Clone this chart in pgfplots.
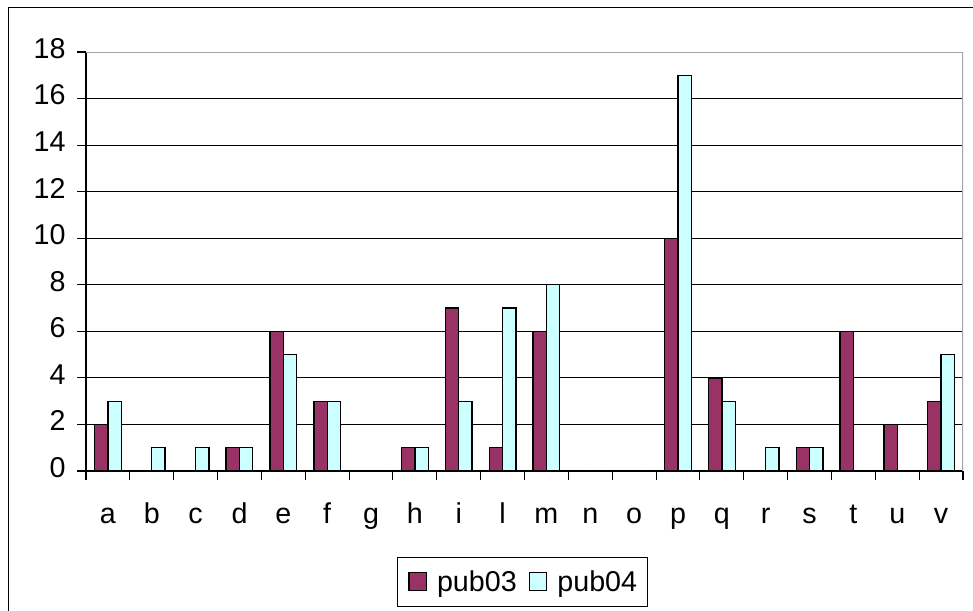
\documentclass[border=0pt]{standalone}
\usepackage{pgfplots}
\pgfplotsset{compat=1.18}
\usepackage{fontspec}
\setmainfont{Liberation Sans}
\definecolor{pubA}{RGB}{153,51,102}
\definecolor{pubB}{RGB}{204,255,255}
\begin{document}
\begin{tikzpicture}
\useasboundingbox (0,0) rectangle (729.75pt,-457.5pt);
\clip (0,0) rectangle (729.75pt,-457.5pt);
\draw[line width=0.75pt] (6pt,-470pt) -- (6pt,-6pt) -- (740pt,-6pt);
\coordinate (O) at (64.5pt,-39pt);
\begin{axis}[
    at={(O)}, anchor=north west,
    scale only axis,
    width=657.75pt, height=314.25pt,
    ybar=0pt, bar width=10pt,
    xmin=-0.5, xmax=19.5,
    ymin=0, ymax=18,
    axis lines=left,
    axis line style={-, line width=0.8pt},
    xtick={0,...,19},
    xticklabels={a,b,c,d,e,f,g,h,i,l,m,n,o,p,q,r,s,t,u,v},
    minor xtick={-0.5,0.5,...,19.5},
    ytick={0,2,...,18},
    tick align=outside,
    major x tick style={draw=none},
    minor tick length=6.75pt,
    major tick length=6.75pt,
    tick style={line width=0.8pt, black},
    ymajorgrids,
    grid style={black, line width=0.7pt},
    /pgf/number format/assume math mode=true,
    typeset ticklabels with strut,
    ticklabel style={font=\fontsize{21.5}{24}\selectfont},
    xticklabel style={yshift=-12pt},
    yticklabel style={xshift=-5pt},
    legend style={at={(0.498,-0.265)}, anchor=center, draw=black,
      line width=0.6pt, font=\fontsize{21.5}{24}\selectfont,
      legend columns=2, inner xsep=8pt, inner ysep=8pt,
      nodes={inner xsep=0pt, inner ysep=2pt},
      /tikz/every odd column/.append style={column sep=7.5pt},
      /tikz/every even column/.append style={column sep=9pt}},
    legend image code/.code={\draw[#1, line width=1pt] (0pt,-6.5pt) rectangle (13pt,7pt);},
    every axis plot/.append style={draw=black, line width=1pt},
]
\addplot[fill=pubA, bar shift=-5pt] coordinates {
 (0,2) (1,0) (2,0) (3,1) (4,6) (5,3) (6,0) (7,1) (8,7) (9,1)
 (10,6) (11,0) (12,0) (13,10) (14,4) (15,0) (16,1) (17,6) (18,2) (19,3)};
\addplot[fill=pubB, bar shift=5pt] coordinates {
 (0,3) (1,1) (2,1) (3,1) (4,5) (5,3) (6,0) (7,1) (8,3) (9,7)
 (10,8) (11,0) (12,0) (13,17) (14,3) (15,1) (16,1) (17,0) (18,0) (19,5)};
\legend{pub03,pub04}
\draw[gray!70, line width=1.2pt] (rel axis cs:0,1) -- (rel axis cs:1,1) -- (rel axis cs:1,0);
\end{axis}
\end{tikzpicture}
\end{document}
